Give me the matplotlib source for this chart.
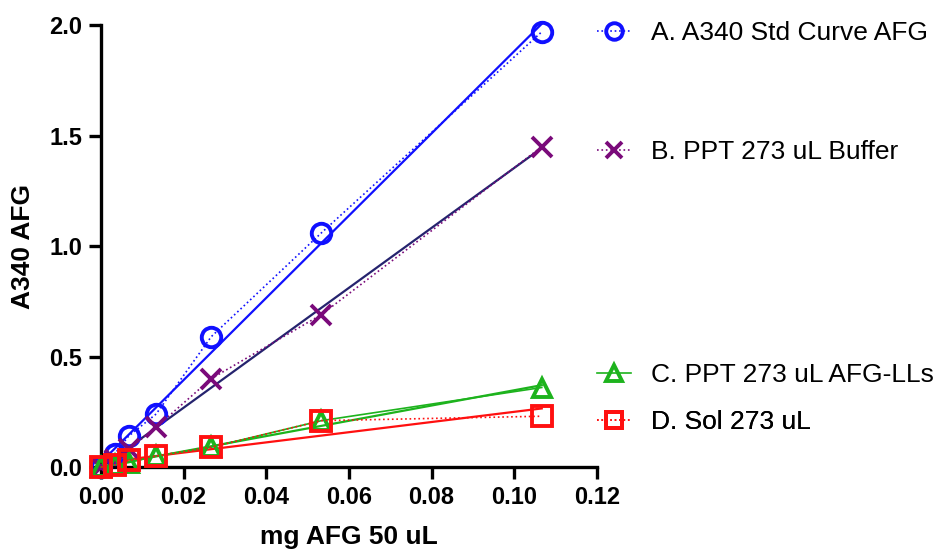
import numpy as np
import matplotlib
matplotlib.use("Agg")
import matplotlib.pyplot as plt

plt.rcParams['font.family'] = ['Liberation Sans', 'DejaVu Sans']

# data
mg_afg = [0, 0.00333, 0.00667, 0.01333, 0.02667, 0.05333, 0.10667]
a_std = [0, 0.06, 0.14, 0.24, 0.59, 1.06, 1.97]
b_buffer = [0, 0.03, 0.08, 0.18, 0.40, 0.69, 1.45]
c_afg_lls = [0, 0.01, 0.02, 0.05, 0.09, 0.21, 0.36]
d_sol = [0, 0.01, 0.03, 0.05, 0.09, 0.21, 0.23]

labels = ['A. A340 Std Curve AFG', 'B. PPT 273 uL Buffer',
          'C. PPT 273 uL AFG-LLs', 'D. Sol 273 uL']
legend_y = [0.982, 0.713, 0.208, 0.102]

series = [a_std, b_buffer, c_afg_lls, d_sol]
colors = ['#1010ff', '#7a0a7a', '#1db31d', '#ff1010']
fit_colors = ['#1010ff', '#25236e', '#1db31d', '#ff1010']
markers = ['o', 'x', '^', 's']
msizes = [14, 14, 13, 14]
conn_styles = [':', ':', '-', ':']

fig = plt.figure(figsize=(9.39, 5.6), dpi=100)
ax = fig.add_axes([0.1076, 0.166, 0.528, 0.789])

x = np.array(mg_afg)
handles = []
for ys, c, fc, m, ms, ls in zip(series, colors, fit_colors, markers, msizes, conn_styles):
    ys = np.array(ys)
    # linear regression line
    k, b = np.polyfit(x, ys, 1)
    xf = np.array([x.min(), x.max()])
    ax.plot(xf, k * xf + b, color=fc, lw=1.6, clip_on=False, zorder=2)
    # connecting line + markers
    h, = ax.plot(x, ys, color=c, ls=ls, lw=1.2, marker=m, ms=ms,
                 mfc='none', mec=c, mew=2.8, clip_on=False, zorder=3)
    handles.append(h)

ax.set_xlim(0, 0.12)
ax.set_ylim(0, 2.0)
ax.set_xticks(np.arange(0, 0.121, 0.02))
ax.set_yticks(np.arange(0, 2.01, 0.5))
ax.set_xticklabels([f'{v:.2f}' for v in np.arange(0, 0.121, 0.02)])
ax.set_yticklabels([f'{v:.1f}' for v in np.arange(0, 2.01, 0.5)])

for s in ['top', 'right']:
    ax.spines[s].set_visible(False)
for s in ['left', 'bottom']:
    ax.spines[s].set_linewidth(2.4)

ax.tick_params(width=2.4, length=8.5, labelsize=17, pad=5)
for lab in ax.get_xticklabels() + ax.get_yticklabels():
    lab.set_fontweight('bold')

ax.set_xlabel('mg AFG 50 uL', fontsize=19, fontweight='bold', labelpad=12)
ax.set_ylabel('A340 AFG', fontsize=19, fontweight='bold', labelpad=10)

# one legend per entry, placed beside its series
for h, lab, yy in zip(handles, labels, legend_y):
    leg = ax.legend(handles=[h], labels=[lab], loc='center left',
                    bbox_to_anchor=(1.0, yy), frameon=False, fontsize=19,
                    handlelength=1.3, handletextpad=0.75, borderpad=0,
                    borderaxespad=0, markerscale=0.85)
    ax.add_artist(leg)

fig.savefig('out.png', dpi=100)
